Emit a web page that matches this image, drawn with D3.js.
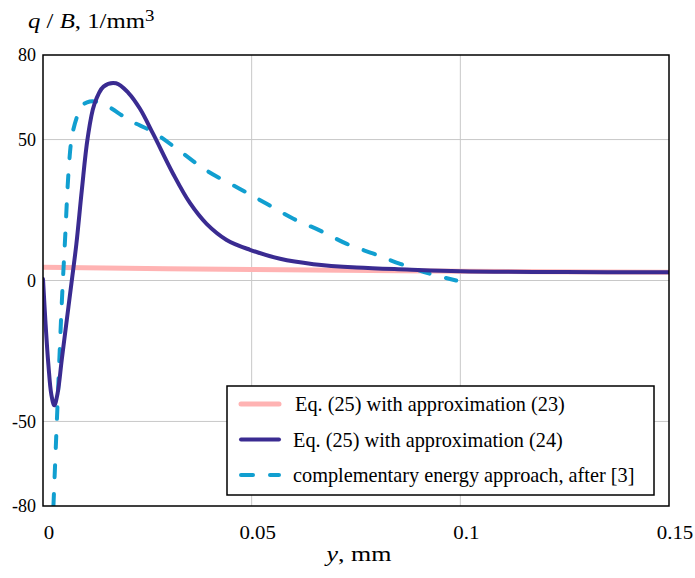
<!DOCTYPE html>
<html>
<head>
<meta charset="utf-8">
<script src="https://cdn.jsdelivr.net/npm/d3@7"></script>
<style>
  body { margin: 0; background: #fff; }
  text { font-family: "Liberation Serif", "DejaVu Serif", serif; fill: #000; }
</style>
</head>
<body>
<div id="chartDiv"></div>
<script>
// tick values
var xTicks = [0, 0.05, 0.1, 0.15];
var xTickLabels = ["0", "0.05", "0.1", "0.15"];
var yTicks = [-80, -50, 0, 50, 80];
var yTickLabels = ["-80", "-50", "0", "50", "80"];

// Eq. (25) with approximation (23)
var approx23Y = [0, 0.05, 0.1, 0.15];
var approx23Q = [4.7, 3.9, 3.3, 2.9];

// Eq. (25) with approximation (24)
var approx24Y = [0, 0.0006, 0.0013, 0.002, 0.0027, 0.0035, 0.0045, 0.0057, 0.0069, 0.008,
                 0.0093, 0.0107, 0.0123, 0.0145, 0.0175, 0.0205, 0.0232, 0.0264, 0.0312, 0.0352,
                 0.0392, 0.044, 0.0496, 0.0568, 0.0648, 0.0752, 0.0872, 0.1, 0.125, 0.15];
var approx24Q = [0.5, -15, -30, -40.5, -44.3, -40, -28, -14, 0, 13,
                 32, 50.5, 62.5, 68.8, 70, 66.5, 61, 52, 37.8, 27.5,
                 20.1, 14.4, 10.9, 7.7, 5.8, 4.6, 3.9, 3.3, 3.0, 2.9];

// complementary energy approach, after [3]
var complY = [0.0025, 0.0034, 0.0045, 0.0053, 0.0061, 0.0069, 0.0081, 0.0093, 0.0112, 0.0129,
              0.0153, 0.0209, 0.0265, 0.0336, 0.0392, 0.0472, 0.0536, 0.06, 0.0664, 0.0728,
              0.0792, 0.0856, 0.0927, 0.099];
var complQ = [-80, -47, -8, 15, 38, 50.8, 57.9, 62, 63.5, 63.4,
              62, 56.7, 52.6, 45, 39, 32.5, 27.2, 21.9, 17.7, 13,
              9.5, 5.9, 2.4, 0];

var legendLabels = ["Eq. (25) with approximation (23)",
                    "Eq. (25) with approximation (24)",
                    "complementary energy approach, after [3]"];

var margin = {top: 55, right: 26, bottom: 72, left: 43},
    width = 695 - margin.left - margin.right,
    height = 578 - margin.top - margin.bottom;

var svg = d3.select("#chartDiv")
  .append("svg")
    .attr("width", 695)
    .attr("height", 578);

const g = svg.append("g")
    .attr("transform", "translate(" + margin.left + "," + margin.top + ")");

var xScale = d3.scaleLinear().domain([0, 0.15]).range([0, width]);
var yScale = d3.scaleLinear().domain([-80, 80]).range([height, 0]);

// grid
g.append("g")
  .selectAll("line")
  .data([-50, 0, 50])
  .enter().append("line")
    .attr("x1", 0).attr("x2", width)
    .attr("y1", d => yScale(d)).attr("y2", d => yScale(d))
    .attr("stroke", "#c8c8c8").attr("stroke-width", 1);
g.append("g")
  .selectAll("line")
  .data([0.05, 0.1])
  .enter().append("line")
    .attr("y1", 0).attr("y2", height)
    .attr("x1", d => xScale(d)).attr("x2", d => xScale(d))
    .attr("stroke", "#c8c8c8").attr("stroke-width", 1);

// axes (labels only)
var xAxis = g.append("g")
  .attr("transform", "translate(0," + height + ")")
  .call(d3.axisBottom(xScale).tickValues(xTicks).tickFormat((d, i) => xTickLabels[i])
    .tickSize(0).tickPadding(20));
xAxis.attr("font-family", '"Liberation Serif", serif').attr("font-size", 19);
xAxis.select(".domain").remove();
xAxis.selectAll("text")
  .attr("dx", 5)
  .attr("transform", "scale(1.1,1)");

var yAxis = g.append("g")
  .call(d3.axisLeft(yScale).tickValues(yTicks).tickFormat((d, i) => yTickLabels[i])
    .tickSize(0).tickPadding(7));
yAxis.attr("font-family", '"Liberation Serif", serif').attr("font-size", 18);
yAxis.select(".domain").remove();

// lines
g.append("clipPath").attr("id", "clip")
  .append("rect").attr("x", 0).attr("y", 0).attr("width", width).attr("height", height);

function makeLine() {
  return d3.line()
    .x(d => xScale(d[0]))
    .y(d => yScale(d[1]))
    .curve(d3.curveCatmullRom.alpha(0.5));
}
var lines = g.append("g").attr("clip-path", "url(#clip)");

lines.append("path")
  .datum(approx23Y.map((y, i) => [y, approx23Q[i]]))
  .attr("d", makeLine())
  .attr("fill", "none").attr("stroke", "#ffb3b3").attr("stroke-width", 5);

lines.append("path")
  .datum(complY.map((y, i) => [y, complQ[i]]))
  .attr("d", makeLine())
  .attr("fill", "none").attr("stroke", "#119fd0").attr("stroke-width", 4)
  .attr("stroke-dasharray", "12,17").attr("stroke-linecap", "round");

lines.append("path")
  .datum(approx24Y.map((y, i) => [y, approx24Q[i]]))
  .attr("d", makeLine())
  .attr("fill", "none").attr("stroke", "#3a2b91").attr("stroke-width", 4)
  .attr("stroke-linejoin", "round").attr("stroke-linecap", "round");

// frame
g.append("rect")
  .attr("x", 0).attr("y", 0).attr("width", width).attr("height", height)
  .attr("fill", "none").attr("stroke", "#000").attr("stroke-width", 1.5);

// legend
var legend = svg.append("g").attr("transform", "translate(227,386)");
legend.append("rect")
  .attr("width", 427).attr("height", 109)
  .attr("fill", "#fff").attr("stroke", "#000").attr("stroke-width", 1.5);
var legendStyles = [
  {color: "#ffb3b3", dash: null, w: 5},
  {color: "#3a2b91", dash: null, w: 4},
  {color: "#119fd0", dash: "12,17", w: 4}
];
legendLabels.forEach(function(label, i) {
  var yy = 18 + i * 35.5;
  legend.append("line")
    .attr("x1", 14).attr("x2", 52).attr("y1", yy).attr("y2", yy)
    .attr("stroke", legendStyles[i].color).attr("stroke-width", legendStyles[i].w)
    .attr("stroke-linecap", "round")
    .attr("stroke-dasharray", legendStyles[i].dash);
  legend.append("text")
    .attr("x", i === 0 ? 68 : 66).attr("y", yy).attr("dy", "0.35em")
    .attr("font-size", 20.3)
    .text(label);
});

// axis titles
var yt = svg.append("text")
  .attr("transform", "translate(28,28) scale(1.18,1)")
  .attr("font-size", 21);
yt.append("tspan").attr("font-style", "italic").text("q");
yt.append("tspan").text(" / ");
yt.append("tspan").attr("font-style", "italic").text("B");
yt.append("tspan").text(", 1/mm");
yt.append("tspan").attr("font-size", 16).attr("dy", -7).text("3");

var xt = svg.append("text")
  .attr("transform", "translate(359,561) scale(1.18,1)")
  .attr("font-size", 22)
  .attr("text-anchor", "middle");
xt.append("tspan").attr("font-style", "italic").text("y");
xt.append("tspan").text(", mm");
</script>
</body>
</html>
